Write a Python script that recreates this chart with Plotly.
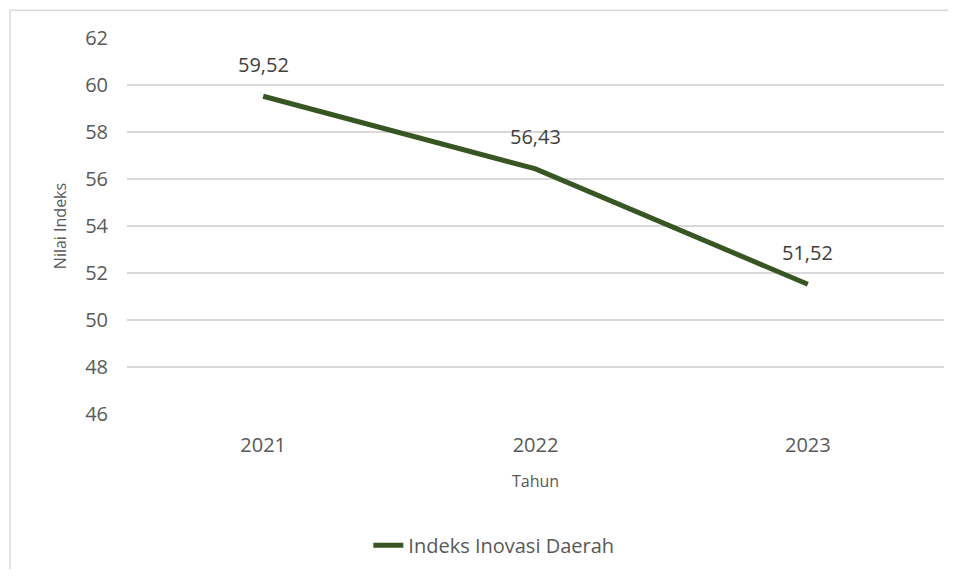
import plotly.graph_objects as graph_objects

# Data
years = ["2021", "2022", "2023"]
index_values = [59.52, 56.43, 51.52]
series_name = "Indeks Inovasi Daerah"

LINE_COLOR = "#375623"
GRID_COLOR = "#d9d9d9"
FONT = "Open Sans"

fig = graph_objects.Figure()

fig.add_trace(
    graph_objects.Scatter(name=series_name, x=years, y=index_values, mode="lines",
                          line=dict(color=LINE_COLOR, width=5))
)

# Data labels above each point, with comma decimals (x is the category position)
for i, value in enumerate(index_values):
    fig.add_annotation(x=i, y=value, text=f"{value:.2f}".replace(".", ","),
                       showarrow=False, yshift=32,
                       font=dict(family=FONT, size=20, color="#404040"))

# Light grey frame around the chart area (cut off at right and bottom)
fig.add_shape(type="rect", xref="paper", yref="paper",
              x0=-0.1432, x1=1.05, y0=-0.48, y1=1.074,
              line=dict(color=GRID_COLOR, width=1.5))

fig.update_layout(
    width=940,
    height=561,
    margin=dict(l=119, r=4, t=30, b=153),
    plot_bgcolor="white",
    paper_bgcolor="white",
    font=dict(family=FONT, size=20, color="#595959"),
    showlegend=True,
    legend=dict(orientation="h", x=0.449, xanchor="center", y=-0.349, yanchor="middle",
                font=dict(family=FONT, size=20, color="#595959")),
    xaxis=dict(
        type="category",
        range=[-0.5, 2.5],
        showgrid=False,
        showline=False,
        ticklabelstandoff=17,
        title=dict(text="Tahun", font=dict(family=FONT, size=16, color="#595959"), standoff=18),
    ),
    yaxis=dict(
        range=[46, 62],
        dtick=2,
        showgrid=True,
        gridcolor=GRID_COLOR,
        gridwidth=1.5,
        zeroline=False,
        showline=False,
        ticklabelstandoff=18,
        title=dict(text="Nilai Indeks", font=dict(family=FONT, size=16, color="#595959"), standoff=14),
    ),
)

fig.write_html("out.html")
